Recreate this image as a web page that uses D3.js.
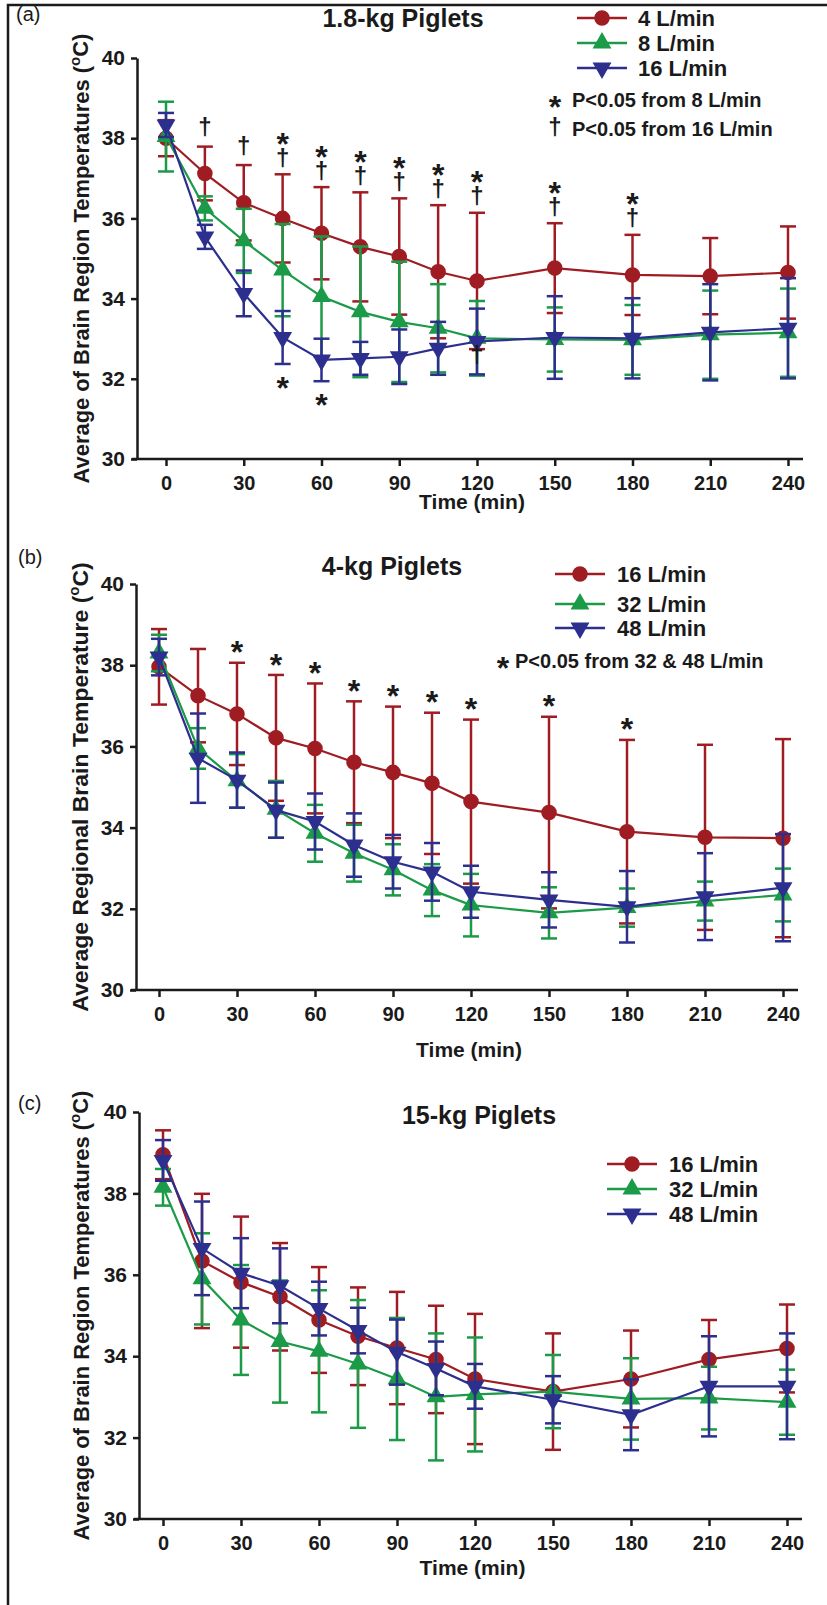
<!DOCTYPE html>
<html>
<head>
<meta charset="utf-8">
<script src="https://cdn.jsdelivr.net/npm/d3@7"></script>
<style>
  html, body { margin: 0; padding: 0; background: #ffffff; }
  svg { display: block; }
  text { font-family: "Liberation Sans", Arial, Helvetica, sans-serif; fill: #1a1a1a; }
</style>
</head>
<body>
<svg id="fig" width="827" height="1605"></svg>
<script>
// ---- shared axes ----
const times = [0, 15, 30, 45, 60, 75, 90, 105, 120, 150, 180, 210, 240];
const xTickValues = [0, 30, 60, 90, 120, 150, 180, 210, 240];
const yTickValues = [30, 32, 34, 36, 38, 40];

// ---- (a) 1.8-kg piglets: mean and SD per flow ----
const a4Mean  = [38.00, 37.12, 36.39, 36.00, 35.63, 35.29, 35.05, 34.67, 34.44, 34.76, 34.59, 34.56, 34.65];
const a4Sd    = [0.45, 0.67, 0.94, 1.10, 1.15, 1.36, 1.45, 1.66, 1.70, 1.12, 1.00, 0.95, 1.15];
const a8Mean  = [38.04, 36.25, 35.44, 34.71, 34.05, 33.67, 33.42, 33.26, 33.01, 32.98, 32.97, 33.10, 33.15];
const a8Sd    = [0.87, 0.30, 0.80, 1.15, 1.50, 1.63, 1.50, 1.10, 0.93, 0.80, 0.87, 1.10, 1.10];
const a16Mean = [38.33, 35.54, 34.13, 33.03, 32.47, 32.51, 32.55, 32.76, 32.93, 33.03, 33.01, 33.16, 33.26];
const a16Sd   = [0.30, 0.30, 0.57, 0.66, 0.53, 0.41, 0.68, 0.66, 0.82, 1.03, 1.00, 1.20, 1.25];
const aStarAbove   = [45, 60, 75, 90, 105, 120, 150, 180];
const aDaggerAbove = [15, 30, 45, 60, 75, 90, 105, 120, 150, 180];
const aStarBelow   = [45, 60];
const aDaggerBelow = [120];

// ---- (b) 4-kg piglets ----
const b16Mean = [37.96, 37.25, 36.80, 36.21, 35.95, 35.61, 35.36, 35.09, 34.64, 34.37, 33.90, 33.76, 33.74];
const b16Sd   = [0.93, 1.15, 1.26, 1.55, 1.60, 1.50, 1.62, 1.74, 2.02, 2.36, 2.26, 2.28, 2.44];
const b32Mean = [38.30, 35.95, 35.15, 34.45, 33.86, 33.37, 32.96, 32.46, 32.09, 31.90, 32.03, 32.19, 32.34];
const b32Sd   = [0.45, 0.50, 0.66, 0.70, 0.70, 0.70, 0.63, 0.64, 0.77, 0.63, 0.47, 0.48, 0.65];
const b48Mean = [38.20, 35.71, 35.17, 34.43, 34.15, 33.57, 33.16, 32.91, 32.42, 32.22, 32.05, 32.30, 32.52];
const b48Sd   = [0.45, 1.10, 0.68, 0.68, 0.69, 0.78, 0.66, 0.71, 0.64, 0.68, 0.88, 1.07, 1.32];
const bStarAbove = [30, 45, 60, 75, 90, 105, 120, 150, 180];

// ---- (c) 15-kg piglets ----
const c16Mean = [38.95, 36.34, 35.82, 35.46, 34.89, 34.49, 34.20, 33.92, 33.44, 33.13, 33.44, 33.92, 34.19];
const c16Sd   = [0.60, 1.65, 1.61, 1.32, 1.30, 1.20, 1.38, 1.32, 1.60, 1.43, 1.19, 0.97, 1.08];
const c32Mean = [38.15, 35.90, 34.89, 34.36, 34.12, 33.81, 33.44, 33.00, 33.06, 33.13, 32.95, 32.97, 32.87];
const c32Sd   = [0.45, 1.12, 1.35, 1.50, 1.50, 1.57, 1.50, 1.56, 1.40, 0.90, 1.00, 0.77, 0.80];
const c48Mean = [38.81, 36.65, 36.04, 35.73, 35.17, 34.63, 34.10, 33.70, 33.26, 32.93, 32.56, 33.26, 33.26];
const c48Sd   = [0.50, 1.15, 0.86, 0.92, 0.66, 0.56, 0.80, 0.66, 0.55, 0.58, 0.87, 1.23, 1.30];

const RED = "#9e1c22", GREEN = "#1b9a47", BLUE = "#2c2f8e", INK = "#1a1a1a";
const STAR_FS = 32, DAGGER_FS = 24;

const panels = [
  {
    tag: "(a)", title: "1.8-kg Piglets", yLabel: "Average of Brain Region Temperatures (",
    series: [
      { name: "4 L/min",  mean: a4Mean,  sd: a4Sd,  color: RED,   shape: "circle" },
      { name: "8 L/min",  mean: a8Mean,  sd: a8Sd,  color: GREEN, shape: "up" },
      { name: "16 L/min", mean: a16Mean, sd: a16Sd, color: BLUE,  shape: "down" }
    ],
    axisX: 137, x0: 166, x1: 788, xEnd: 803, yTop: 58, yBot: 459, xLabelGap: 43,
    tagXY: [16, 14], titleXY: [403, 18], yLabelX: 81,
    legend: { lineX: 577, textX: 638, rows: [18, 43, 68] },
    keyNotes: [
      { sym: "*", text: "P<0.05 from 8 L/min",  symX: 555, textX: 572, y: 100 },
      { sym: "\u2020", text: "P<0.05 from 16 L/min", symX: 555, textX: 572, y: 129 }
    ],
    starAbove: aStarAbove, daggerAbove: aDaggerAbove, starBelow: aStarBelow, daggerBelow: aDaggerBelow
  },
  {
    tag: "(b)", title: "4-kg Piglets", yLabel: "Average Regional Brain Temperature (",
    series: [
      { name: "16 L/min", mean: b16Mean, sd: b16Sd, color: RED,   shape: "circle" },
      { name: "32 L/min", mean: b32Mean, sd: b32Sd, color: GREEN, shape: "up" },
      { name: "48 L/min", mean: b48Mean, sd: b48Sd, color: BLUE,  shape: "down" }
    ],
    axisX: 136, x0: 159, x1: 783, xEnd: 798, yTop: 584, yBot: 990, xLabelGap: 60,
    tagXY: [18, 557], titleXY: [392, 566], yLabelX: 80,
    legend: { lineX: 555, textX: 617, rows: [574, 604, 628] },
    keyNotes: [
      { sym: "*", text: "P<0.05 from 32 & 48 L/min", symX: 503, textX: 515, y: 661 }
    ],
    starAbove: bStarAbove, daggerAbove: [], starBelow: [], daggerBelow: []
  },
  {
    tag: "(c)", title: "15-kg Piglets", yLabel: "Average of Brain Region Temperatures (",
    series: [
      { name: "16 L/min", mean: c16Mean, sd: c16Sd, color: RED,   shape: "circle" },
      { name: "32 L/min", mean: c32Mean, sd: c32Sd, color: GREEN, shape: "up" },
      { name: "48 L/min", mean: c48Mean, sd: c48Sd, color: BLUE,  shape: "down" }
    ],
    axisX: 139, x0: 163, x1: 787, xEnd: 802, yTop: 1112, yBot: 1519, xLabelGap: 49,
    tagXY: [18, 1103], titleXY: [479, 1115], yLabelX: 81,
    legend: { lineX: 607, textX: 669, rows: [1164, 1189, 1214] },
    keyNotes: [],
    starAbove: [], daggerAbove: [], starBelow: [], daggerBelow: []
  }
];

const svg = d3.select("#fig");

// outer frame (only the top and left edges fall inside the page)
svg.append("rect")
  .attr("x", 8).attr("y", 5).attr("width", 900).attr("height", 1700)
  .attr("fill", "none").attr("stroke", INK).attr("stroke-width", 2.5);

const symbolPath = {
  circle: d3.symbol().type(d3.symbolCircle).size(190)(),
  up: d3.symbol().type(d3.symbolTriangle).size(155)(),
  down: d3.symbol().type(d3.symbolTriangle).size(155)()
};

function marker(sel, shape) {
  return sel.append("path")
    .attr("d", symbolPath[shape])
    .attr("transform", d => `translate(${d.x},${d.y})` + (shape === "down" ? " rotate(180)" : ""));
}

panels.forEach(drawPanel);

function drawPanel(p) {
  const g = svg.append("g");
  const x = d3.scaleLinear().domain([0, 240]).range([p.x0, p.x1]);
  const y = d3.scaleLinear().domain([30, 40]).range([p.yBot, p.yTop]);

  // y axis
  const ya = g.append("g")
    .attr("transform", `translate(${p.axisX},0)`)
    .call(d3.axisLeft(y).tickValues(yTickValues).tickSize(6).tickSizeOuter(0).tickPadding(6).tickFormat(d3.format("d")));
  ya.attr("font-family", null).attr("font-size", null);
  ya.selectAll("path, line").attr("stroke", INK).attr("stroke-width", 2.5);
  ya.selectAll("text").attr("font-size", 21).attr("font-weight", "bold").attr("fill", INK);

  // x axis
  const xa = g.append("g")
    .attr("transform", `translate(0,${p.yBot})`)
    .call(d3.axisBottom(x).tickValues(xTickValues).tickSize(7).tickSizeOuter(0).tickPadding(10));
  xa.attr("font-family", null).attr("font-size", null);
  xa.select(".domain").remove();
  xa.selectAll("line").attr("stroke", INK).attr("stroke-width", 2.5);
  xa.selectAll("text").attr("font-size", 20).attr("font-weight", "bold").attr("fill", INK);
  g.append("line")
    .attr("x1", p.axisX - 5).attr("x2", p.xEnd)
    .attr("y1", p.yBot).attr("y2", p.yBot)
    .attr("stroke", INK).attr("stroke-width", 2.5);

  // axis titles
  g.append("text")
    .attr("x", (p.axisX + p.xEnd) / 2 + 2).attr("y", p.yBot + p.xLabelGap).attr("dy", "0.35em")
    .attr("text-anchor", "middle").attr("font-size", 21).attr("font-weight", "bold")
    .text("Time (min)");

  const yl = g.append("text")
    .attr("transform", `translate(${p.yLabelX},${(p.yTop + p.yBot) / 2}) rotate(-90)`)
    .attr("text-anchor", "middle").attr("font-size", 22).attr("font-weight", "bold")
    .attr("dy", "0.35em");
  yl.append("tspan").text(p.yLabel);
  yl.append("tspan").attr("font-size", 15).attr("dy", "-0.6em").text("o");
  yl.append("tspan").attr("dy", "0.4em").text("C)");
  // fit the rotated label to the plotted span of the axis
  const w = yl.node().getComputedTextLength();
  yl.attr("font-size", 22 * 450 / w);

  // panel tag and title
  g.append("text").attr("x", p.tagXY[0]).attr("y", p.tagXY[1]).attr("dy", "0.35em")
    .attr("font-size", 20).text(p.tag);
  g.append("text").attr("x", p.titleXY[0]).attr("y", p.titleXY[1]).attr("dy", "0.35em")
    .attr("text-anchor", "middle").attr("font-size", 25).attr("font-weight", "bold").text(p.title);

  // series: error bars, connecting line, symbols
  p.series.forEach(s => {
    const pts = times.map((t, i) => ({ t, m: s.mean[i], sd: s.sd[i], x: x(t), y: y(s.mean[i]) }));
    const sg = g.append("g");
    const eb = sg.append("g").attr("stroke", s.color).attr("stroke-width", 2.5).attr("fill", "none");
    eb.selectAll("line.v").data(pts).join("line").attr("class", "v")
      .attr("x1", d => d.x).attr("x2", d => d.x)
      .attr("y1", d => y(d.m + d.sd)).attr("y2", d => y(d.m - d.sd));
    eb.selectAll("line.hi").data(pts).join("line").attr("class", "hi")
      .attr("x1", d => d.x - 8).attr("x2", d => d.x + 8)
      .attr("y1", d => y(d.m + d.sd)).attr("y2", d => y(d.m + d.sd));
    eb.selectAll("line.lo").data(pts).join("line").attr("class", "lo")
      .attr("x1", d => d.x - 8).attr("x2", d => d.x + 8)
      .attr("y1", d => y(d.m - d.sd)).attr("y2", d => y(d.m - d.sd));
    sg.append("path").datum(pts)
      .attr("d", d3.line().x(d => d.x).y(d => d.y))
      .attr("fill", "none").attr("stroke", s.color).attr("stroke-width", 2.2);
    marker(sg.selectAll("g.pt").data(pts).join("g").attr("class", "pt"), s.shape)
      .attr("fill", s.color);
  });

  // significance marks: a star and/or dagger share one text element per time point
  const top = p.series[0], low = p.series[2];
  const idx = t => times.indexOf(t);
  const capHi = t => y(top.mean[idx(t)] + top.sd[idx(t)]);
  const capLo = t => y(low.mean[idx(t)] - low.sd[idx(t)]);
  const starBase = cy => cy + 0.58 * STAR_FS;
  const daggerBase = cy => cy + 0.27 * DAGGER_FS;

  const aboveTimes = Array.from(new Set([...p.daggerAbove, ...p.starAbove])).sort((m, n) => m - n);
  aboveTimes.forEach(t => {
    const cx = x(t), cap = capHi(t);
    const hasDagger = p.daggerAbove.includes(t), hasStar = p.starAbove.includes(t);
    const mark = g.append("text").attr("text-anchor", "middle").attr("font-weight", "bold");
    if (hasStar) {
      mark.append("tspan").attr("x", cx).attr("y", starBase(cap - (hasDagger ? 38 : 18)))
        .attr("font-size", STAR_FS).text("*");
    }
    if (hasDagger) {
      mark.append("tspan").attr("x", cx).attr("y", daggerBase(cap - (hasStar ? 15 : 18)))
        .attr("font-size", DAGGER_FS).text("\u2020");
    }
  });
  p.starBelow.forEach(t => g.append("text").attr("x", x(t)).attr("y", starBase(capLo(t) + 16))
    .attr("text-anchor", "middle").attr("font-size", STAR_FS).attr("font-weight", "bold").text("*"));
  p.daggerBelow.forEach(t => g.append("text").attr("x", x(t)).attr("y", daggerBase(y(low.mean[idx(t)]) + 15))
    .attr("text-anchor", "middle").attr("font-size", DAGGER_FS).attr("font-weight", "bold").text("\u2020"));

  // legend
  p.series.forEach((s, i) => {
    const ly = p.legend.rows[i];
    const lg = g.append("g");
    lg.append("line").attr("x1", p.legend.lineX).attr("x2", p.legend.lineX + 50)
      .attr("y1", ly).attr("y2", ly).attr("stroke", s.color).attr("stroke-width", 2.4);
    marker(lg.selectAll("g").data([{ x: p.legend.lineX + 25, y: ly }]).join("g"), s.shape)
      .attr("fill", s.color);
    lg.append("text").attr("x", p.legend.textX).attr("y", ly).attr("dy", "0.36em")
      .attr("font-size", 22).attr("font-weight", "bold").text(s.name);
  });
  p.keyNotes.forEach(n => {
    const note = g.append("text").attr("font-weight", "bold");
    if (n.sym === "*") {
      note.append("tspan").attr("x", n.symX).attr("y", starBase(n.y - 1))
        .attr("text-anchor", "middle").attr("font-size", STAR_FS).text("*");
    } else {
      note.append("tspan").attr("x", n.symX).attr("y", daggerBase(n.y))
        .attr("text-anchor", "middle").attr("font-size", DAGGER_FS).text("\u2020");
    }
    note.append("tspan").attr("x", n.textX).attr("y", n.y + 7)
      .attr("text-anchor", "start").attr("font-size", 20).text(n.text);
  });
}
</script>
</body>
</html>
